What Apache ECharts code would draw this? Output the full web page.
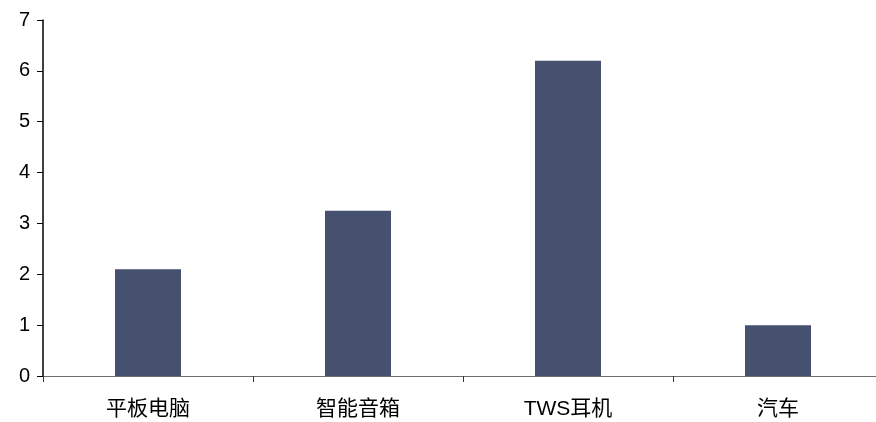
<!DOCTYPE html>
<html><head><meta charset="utf-8">
<script src="https://cdn.jsdelivr.net/npm/echarts@6/dist/echarts.min.js"></script>
<style>html,body{margin:0;padding:0;background:#fff;overflow:hidden;width:876px;height:422px}#c{width:890px;height:422px}</style>
</head><body><div id="c"></div>
<script>
const categories = ['平板电脑', '智能音箱', 'TWS耳机', '汽车'];
const values = [2.1, 3.25, 6.2, 1.0];
const yTicks = [0, 1, 2, 3, 4, 5, 6, 7];

const chart = echarts.init(document.getElementById('c'));
chart.setOption({
  animation: false,
  grid: { left: 43, right: 7, top: 20, bottom: 46, containLabel: false },
  xAxis: {
    type: 'category',
    data: categories,
    axisLine: { lineStyle: { color: '#6e6e6e', width: 1 } },
    axisTick: { show: true, length: 6, alignWithLabel: false, lineStyle: { color: '#333' } },
    axisLabel: { color: '#000', fontSize: 21, margin: 23, fontFamily: 'Liberation Sans, Noto Sans CJK SC, sans-serif' }
  },
  yAxis: {
    type: 'value',
    min: yTicks[0], max: yTicks[yTicks.length - 1], interval: 1,
    splitLine: { show: false },
    axisLine: { show: true, lineStyle: { color: '#000', width: 1.5 } },
    axisTick: { show: true, length: 6, lineStyle: { color: '#000' } },
    axisLabel: { color: '#000', fontSize: 20, margin: 13, fontFamily: 'Liberation Sans, sans-serif' }
  },
  series: [{
    type: 'bar',
    data: values,
    barWidth: 66,
    itemStyle: { color: '#46516f' }
  }]
});
</script></body></html>
